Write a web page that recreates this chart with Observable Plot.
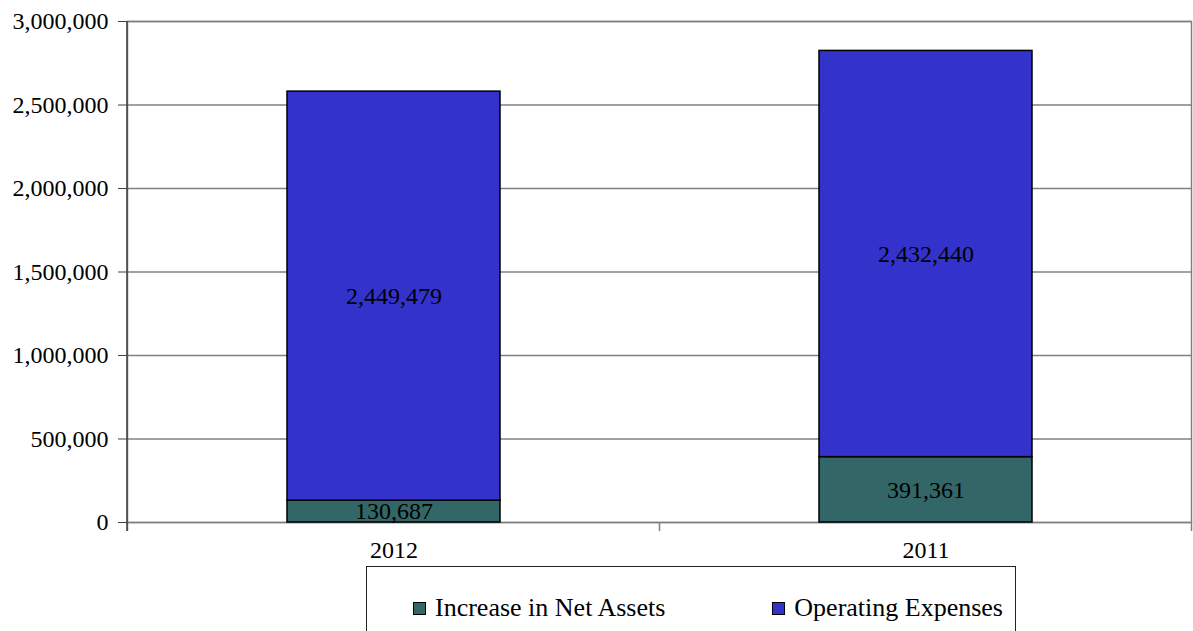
<!DOCTYPE html>
<html><head><meta charset="utf-8">
<script src="https://cdn.jsdelivr.net/npm/d3@7"></script>
<script src="https://cdn.jsdelivr.net/npm/@observablehq/plot@0.6"></script>
<style>
body{margin:0;background:#fff;font-family:'Liberation Serif';}
#chart{position:relative;width:1193px;height:631px;overflow:hidden;font-family:'Liberation Serif';}
#legend{position:absolute;left:366px;top:566px;width:650px;height:90px;border:1px solid #222;box-sizing:border-box;
  display:flex;align-items:flex-start;padding-top:26px;padding-left:46px;gap:107px;font-size:26px;color:#000;
  font-family:'Liberation Serif';}
#legend .item{display:flex;align-items:center;white-space:nowrap;line-height:30px;}
#legend .sw{display:inline-block;width:11px;height:11px;border:1px solid #000;margin-right:9px;}
</style></head>
<body><div id="chart"></div>
<script>
const years = ["2012", "2011"];
const seriesNames = ["Increase in Net Assets", "Operating Expenses"];
const increaseInNetAssets = [130687, 391361];
const operatingExpenses = [2449479, 2432440];
const yTicks = [0, 500000, 1000000, 1500000, 2000000, 2500000, 3000000];
const seriesColors = ["#336666", "#3333CC"];

const FONT = "Liberation Serif";

const rows = [];
years.forEach((yr, i) => {
  rows.push({year: yr, series: seriesNames[0], value: increaseInNetAssets[i]});
  rows.push({year: yr, series: seriesNames[1], value: operatingExpenses[i]});
});

const fmt = d3.format(",");
const W = 1193, H = 562, mL = 127, mR = 2, mT = 21, mB = 40;

// left axis line and category boundary ticks, computed from Plot's x scale
function axisFrame(index, scales, values, dimensions) {
  const x = scales.x;
  const {height, marginLeft, marginTop, marginBottom} = dimensions;
  const g = d3.create("svg:g");
  const step = x.step(), bw = x.bandwidth();
  const dom = x.domain();
  const bounds = dom.map(d => x(d) - (step - bw) / 2);
  bounds.push(x(dom[dom.length - 1]) + bw + (step - bw) / 2);
  const yb = height - marginBottom;
  for (const b of bounds) {
    g.append("line").attr("x1", b).attr("x2", b).attr("y1", yb).attr("y2", yb + 9)
      .attr("stroke", "#808080").attr("stroke-width", 1.5);
  }
  g.append("line").attr("x1", marginLeft).attr("x2", marginLeft).attr("y1", marginTop).attr("y2", yb + 9)
    .attr("stroke", "#404040").attr("stroke-width", 1.5);
  return g.node();
}

const plot = Plot.plot({
  width: W, height: H,
  marginLeft: mL, marginRight: mR, marginTop: mT, marginBottom: mB,
  style: {fontFamily: FONT, fontSize: "24px", color: "#000", background: "#fff"},
  x: {domain: years, paddingInner: 0.6, paddingOuter: 0.3, label: null},
  y: {domain: [0, 3000000], label: null},
  color: {domain: seriesNames, range: seriesColors},
  marks: [
    Plot.gridY(yTicks, {stroke: "#808080", strokeOpacity: 1, strokeWidth: 1.5}),
    Plot.frame({stroke: "#808080", strokeWidth: 1.5}),
    Plot.barY(rows, {x: "year", y: "value", fill: "series", stroke: "#000", strokeWidth: 1.5}),
    Plot.text(rows, Plot.stackY({x: "year", y: "value", z: "series", text: d => fmt(d.value), fontSize: 24, fontFamily: FONT, fill: "#000"})),
    Plot.axisY(yTicks, {tickFormat: fmt, tickSize: 9, tickPadding: 10, stroke: "#404040", fontSize: 24, fontFamily: FONT, label: null}),
    Plot.axisX({tickSize: 0, tickPadding: 18, fontSize: 24, fontFamily: FONT, label: null}),
    axisFrame
  ]
});

const chart = document.getElementById("chart");
chart.appendChild(plot);

const legend = document.createElement("div");
legend.id = "legend";
seriesNames.forEach((name, i) => {
  const item = document.createElement("span");
  item.className = "item";
  const sw = document.createElement("span");
  sw.className = "sw";
  sw.style.background = seriesColors[i];
  item.appendChild(sw);
  item.appendChild(document.createTextNode(name));
  legend.appendChild(item);
});
chart.appendChild(legend);
</script>
</body></html>
